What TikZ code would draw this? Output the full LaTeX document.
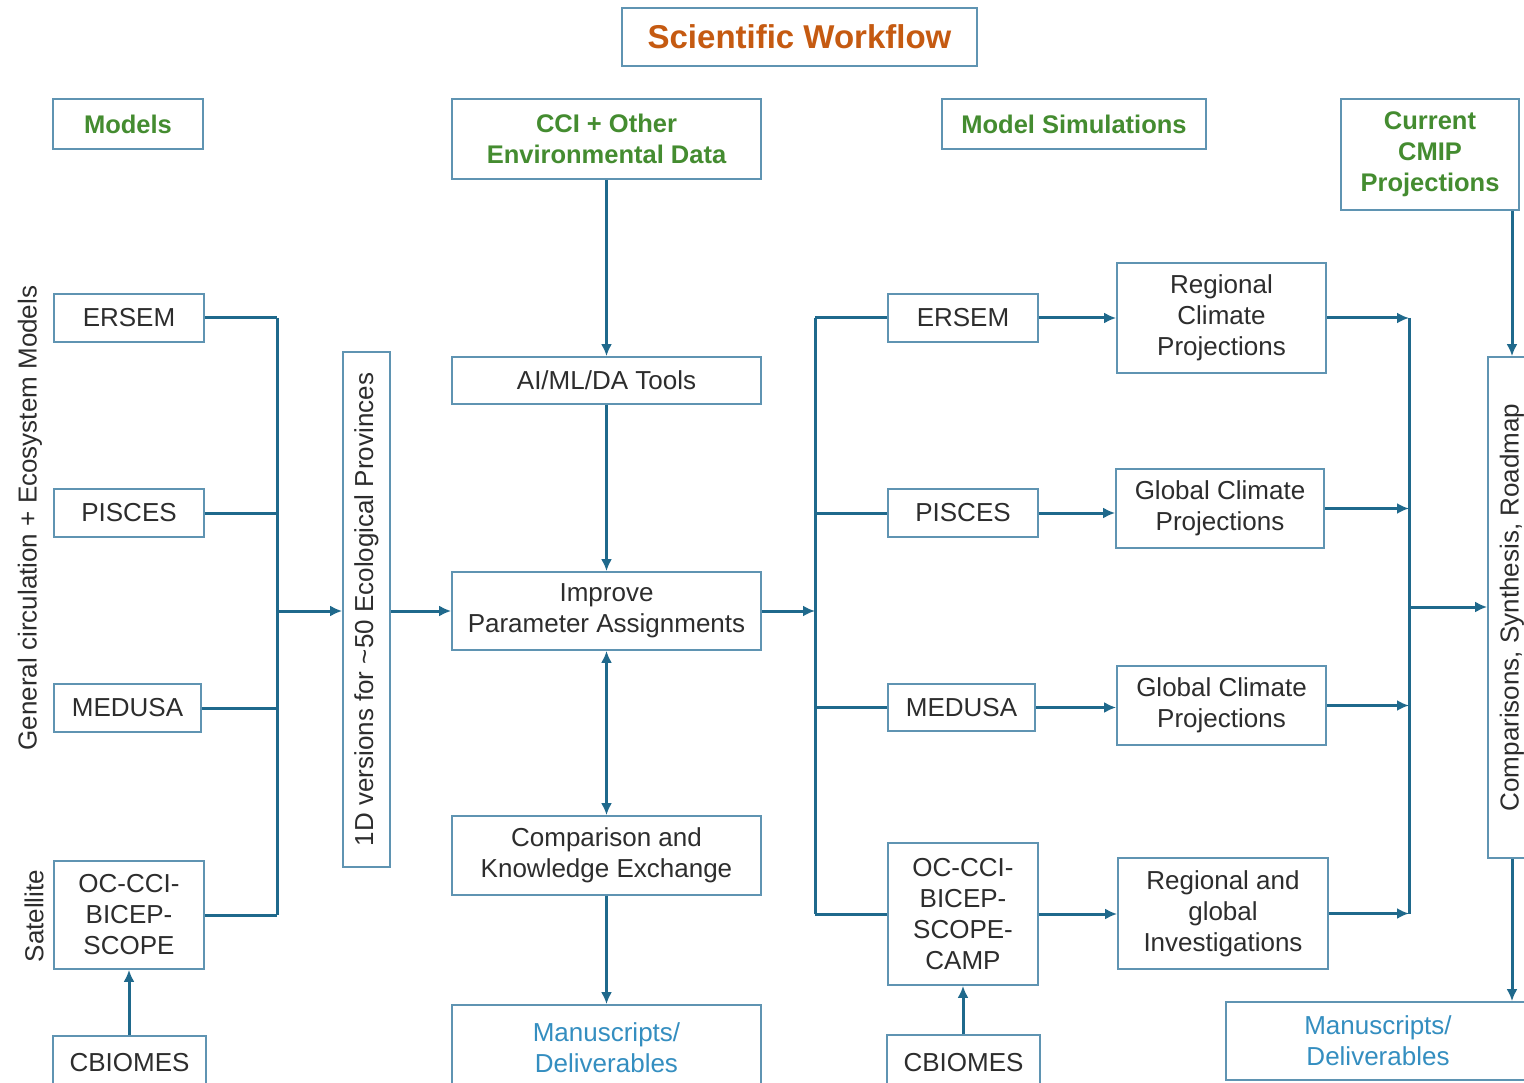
\documentclass[tikz,border=0pt]{standalone}
\usepackage{fontspec}
\setmainfont{Liberation Sans}
\usetikzlibrary{arrows.meta}
\definecolor{boxc}{RGB}{95,148,178}
\definecolor{arrc}{RGB}{31,105,140}
\definecolor{grn}{RGB}{68,140,48}
\definecolor{org}{RGB}{197,90,17}
\definecolor{blutxt}{RGB}{52,142,192}
\definecolor{txt}{RGB}{45,45,45}
\begin{document}
\begin{tikzpicture}[x=1pt,y=-1pt,
  box/.style={draw=boxc, line width=1.8pt, fill=white, align=center, inner sep=0pt, text=txt, font=\fontsize{26}{31}\selectfont},
  hdr/.style={box, text=grn, font=\fontsize{25.5}{31}\selectfont\bfseries},
  mbox/.style={box, text=blutxt},
  lbl/.style={text=txt, font=\fontsize{26}{31}\selectfont, rotate=90, inner sep=0pt},
  ln/.style={draw=arrc, line width=3pt},
  arr/.style={ln, -{Latex[length=12pt,width=11pt]}},
  darr/.style={ln, {Latex[length=12pt,width=11pt]}-{Latex[length=12pt,width=11pt]}}]
\useasboundingbox (0,0) rectangle (1524,1083);
\clip (0,0) rectangle (1524,1083);
\fill[white] (0,0) rectangle (1524,1083);

% headers
\node[box, text=org, font=\fontsize{33}{38}\selectfont\bfseries, minimum width=355pt, minimum height=58pt] (title) at (799.5,37) {Scientific Workflow};
\node[hdr, minimum width=150pt, minimum height=50pt] (models) at (128,124) {Models};
\node[hdr, minimum width=309pt, minimum height=80pt] (cci) at (606.5,139) {CCI + Other\\Environmental Data};
\node[hdr, minimum width=264pt, minimum height=50pt] (msim) at (1074,124) {Model Simulations};
\node[hdr, minimum width=178pt, minimum height=111pt] (cmip) at (1430,154.5) {Current\\CMIP\\Projections};

% side labels
\node[lbl] (gcl) at (30,518) {General circulation + Ecosystem Models};
\node[lbl] (sat) at (34,916) {Satellite};

% left models
\node[box, minimum width=150pt, minimum height=48pt] (lersem) at (129,318) {ERSEM};
\node[box, minimum width=150pt, minimum height=48pt] (lpis) at (129,513) {PISCES};
\node[box, minimum width=147pt, minimum height=48pt] (lmed) at (127.5,708) {MEDUSA};
\node[box, minimum width=150pt, minimum height=108pt] (locc) at (129,915) {OC-CCI-\\BICEP-\\SCOPE};
\node[box, minimum width=153pt, minimum height=54pt] (lcb) at (129.5,1063) {CBIOMES};

\node[box, rotate=90, minimum width=515pt, minimum height=47pt] (d1) at (366.5,609.5) {1D versions for \textasciitilde 50 Ecological Provinces};

% centre column
\node[box, minimum width=309pt, minimum height=47pt] (ai) at (606.5,380.5) {AI/ML/DA Tools};
\node[box, minimum width=309pt, minimum height=78pt] (impr) at (606.5,611) {Improve\\Parameter Assignments};
\node[box, minimum width=309pt, minimum height=79pt] (cke) at (606.5,855.5) {Comparison and\\Knowledge Exchange};
\node[mbox, minimum width=309pt, minimum height=85pt] (manM) at (606.5,1047.5) {Manuscripts/\\Deliverables};

% right models
\node[box, minimum width=150pt, minimum height=48pt] (rersem) at (963,318) {ERSEM};
\node[box, minimum width=150pt, minimum height=48pt] (rpis) at (963,513) {PISCES};
\node[box, minimum width=147pt, minimum height=47pt] (rmed) at (961.5,707.5) {MEDUSA};
\node[box, minimum width=150pt, minimum height=142pt] (rocc) at (963,914) {OC-CCI-\\BICEP-\\SCOPE-\\CAMP};
\node[box, minimum width=153pt, minimum height=55pt] (rcb) at (963.5,1062.5) {CBIOMES};

% projections
\node[box, minimum width=209pt, minimum height=110pt] (reg) at (1221.5,318) {Regional\\Climate\\Projections};
\node[box, minimum width=208pt, minimum height=79pt] (glob1) at (1220,508.5) {Global Climate\\Projections};
\node[box, minimum width=209pt, minimum height=79pt] (glob2) at (1221.5,705.5) {Global Climate\\Projections};
\node[box, minimum width=210pt, minimum height=111pt] (rgi) at (1223,913.5) {Regional and\\global\\Investigations};

\node[box, rotate=90, minimum width=501pt, minimum height=48pt] (comp) at (1512,607.5) {Comparisons, Synthesis, Roadmap};
\node[mbox, minimum width=304pt, minimum height=78pt] (manR) at (1378,1041) {Manuscripts/\\Deliverables};

% bus coordinates
\coordinate (busL) at (277,611);
\coordinate (busM) at (815,611);
\coordinate (busR) at (1409,607);

% left bus
\draw[ln] (lersem.east) -- (lersem.east -| busL);
\draw[ln] (lpis.east) -- (lpis.east -| busL);
\draw[ln] (lmed.east) -- (lmed.east -| busL);
\draw[ln] (locc.east) -- (locc.east -| busL);
\draw[ln] (lersem.east -| busL) -- (locc.east -| busL);
\draw[arr] (busL) -- (busL -| d1.north);
\draw[arr] (d1.south |- impr.west) -- (impr.west);
\draw[arr] (locc.south |- lcb.north) -- (locc.south);

% centre
\draw[arr] (cci.south) -- (ai.north);
\draw[arr] (ai.south) -- (impr.north);
\draw[darr] (impr.south) -- (cke.north);
\draw[arr] (cke.south) -- (manM.north);
\draw[arr] (impr.east) -- (busM);

% right bus
\draw[ln] (rersem.west -| busM) -- (rocc.west -| busM);
\draw[ln] (rersem.west -| busM) -- (rersem.west);
\draw[ln] (rpis.west -| busM) -- (rpis.west);
\draw[ln] (rmed.west -| busM) -- (rmed.west);
\draw[ln] (rocc.west -| busM) -- (rocc.west);
\draw[arr] (rocc.south |- rcb.north) -- (rocc.south);

% models to projections
\draw[arr] (rersem.east) -- (rersem.east -| reg.west);
\draw[arr] (rpis.east) -- (rpis.east -| glob1.west);
\draw[arr] (rmed.east) -- (rmed.east -| glob2.west);
\draw[arr] (rocc.east) -- (rocc.east -| rgi.west);

% projections to bus
\draw[arr] (reg.east) -- (reg.east -| busR);
\draw[arr] (glob1.east) -- (glob1.east -| busR);
\draw[arr] (glob2.east) -- (glob2.east -| busR);
\draw[arr] (rgi.east) -- (rgi.east -| busR);
\draw[ln] (reg.east -| busR) -- (rgi.east -| busR);
\draw[arr] (busR) -- (busR -| comp.north);
\draw[arr] (comp.east |- cmip.south) -- (comp.east);
\draw[arr] (comp.west) -- (comp.west |- manR.north);
\end{tikzpicture}
\end{document}
